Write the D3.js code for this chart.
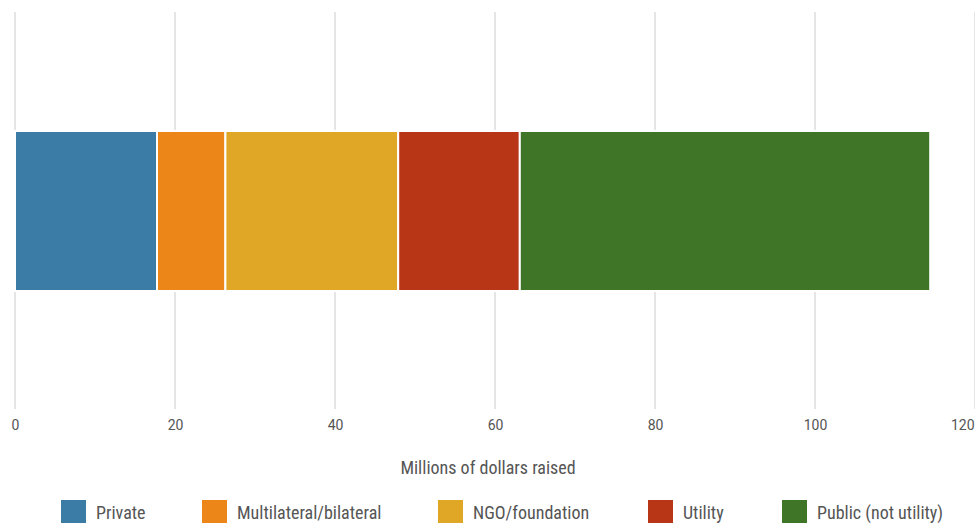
<!DOCTYPE html>
<html><head><meta charset="utf-8">
<script src="https://cdn.jsdelivr.net/npm/d3@7"></script>
<style>body{margin:0;background:#fff;overflow:hidden}</style>
</head><body>
<svg id="c" width="975" height="523"></svg>
<script>
const categories = ["Private", "Multilateral/bilateral", "NGO/foundation", "Utility", "Public (not utility)"];
const values = [17.75, 8.55, 21.6, 15.2, 51.3];
const colors = ["#3a7ca5", "#ec8619", "#e0a626", "#b83516", "#3e7526"];
const tickValues = [0, 20, 40, 60, 80, 100, 120];
const axisTitle = "Millions of dollars raised";

const svg = d3.select("#c");
const x = d3.scaleLinear().domain([0, 120]).range([15, 975]);

// grid
svg.append("g").selectAll("line").data(tickValues).join("line")
  .attr("x1", d => x(d)).attr("x2", d => x(d))
  .attr("y1", 12).attr("y2", 409)
  .attr("stroke", "#dcdcdc").attr("stroke-width", 1.5);

// stacked segments
let acc = 0;
const segs = values.map((v, i) => { const s = {cat: categories[i], x0: acc, x1: acc + v, c: colors[i]}; acc += v; return s; });
const barH = 160;
const barY = 131;
svg.append("g").selectAll("rect").data(segs).join("rect")
  .attr("x", d => x(d.x0)).attr("width", d => x(d.x1) - x(d.x0))
  .attr("y", barY).attr("height", barH)
  .attr("fill", d => d.c).attr("stroke", "#fff").attr("stroke-width", 2);

// axis
const axis = d3.axisBottom(x).tickValues(tickValues).tickSize(0).tickPadding(0);
const ag = svg.append("g").attr("transform", "translate(0,420)").call(axis);
ag.select(".domain").remove();
ag.selectAll("text").attr("font-family", "Roboto, 'Noto Sans', sans-serif")
  .attr("font-size", 14).attr("fill", "#555").attr("dy", "0.71em");
// last label is justified to stay within the plot
ag.selectAll(".tick").filter(d => d === 120).select("text")
  .attr("text-anchor", "end").attr("x", -1);

svg.append("text").attr("x", 488).attr("y", 474).attr("text-anchor", "middle")
  .attr("font-family", "'Liberation Sans Narrow', 'Roboto Condensed', 'Open Sans', sans-serif")
  .attr("font-size", 18).attr("fill", "#555").text(axisTitle);

// legend
const legendX = [61, 202, 438, 648, 782];
const lg = svg.append("g").selectAll("g").data(categories).join("g")
  .attr("transform", (d, i) => `translate(${legendX[i]},500)`);
lg.append("rect").attr("width", 25).attr("height", 23).attr("fill", (d, i) => colors[i]);
lg.append("text").attr("x", 35).attr("y", 19)
  .attr("font-family", "'Liberation Sans Narrow', 'Roboto Condensed', 'Open Sans', sans-serif")
  .attr("font-size", 18).attr("fill", "#555").text(d => d);
</script>
</body></html>
